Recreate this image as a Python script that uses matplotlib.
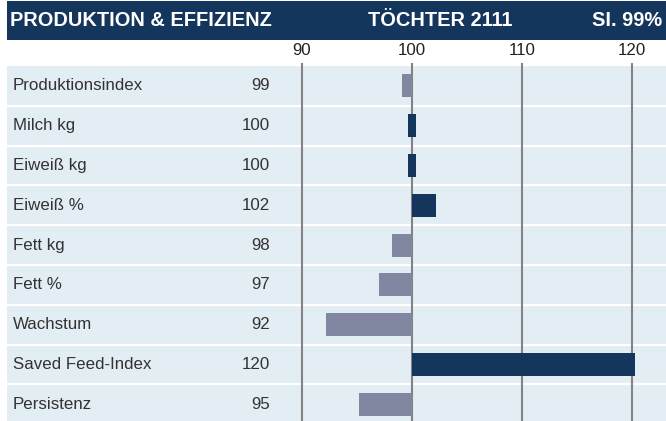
import matplotlib
matplotlib.use("Agg")
import matplotlib.pyplot as plt
import matplotlib.transforms as mtransforms
from matplotlib.patches import Rectangle

plt.rcParams['font.family'] = ['Liberation Sans', 'DejaVu Sans']

# data
categories = ["Produktionsindex", "Milch kg", "Eiweiß kg", "Eiweiß %", "Fett kg",
              "Fett %", "Wachstum", "Saved Feed-Index", "Persistenz"]
values = [99.1, 100.0, 100.0, 102.2, 98.2, 97.0, 92.2, 120.3, 95.2]
xticks = [90, 100, 110, 120]
header_left = "PRODUKTION & EFFIZIENZ"
header_mid = "TÖCHTER 2111"
header_right = "SI. 99%"

base = 100
navy = "#14365c"
grey_bar = "#8287a1"
band = "#e2edf4"
grid_col = "#838383"

W, H = 666, 421
fig = plt.figure(figsize=(W / 100, H / 100), dpi=100)
fig.patch.set_facecolor("white")

# header band
fig.patches.append(Rectangle((7 / W, 1 - 40 / H), 1 - 7 / W, 39 / H,
                             transform=fig.transFigure, facecolor=navy,
                             edgecolor="none", zorder=0))
hy = 1 - 21 / H
fig.text(10 / W, hy, header_left, color="white", fontsize=14.4,
         fontweight="bold", va="center", ha="left")
fig.text(368 / W, hy, header_mid, color="white", fontsize=14.4,
         fontweight="bold", va="center", ha="left")
fig.text(662 / W, hy, header_right, color="white", fontsize=14.4,
         fontweight="bold", va="center", ha="right")

# main axes: rows area
top_px = 66
ax = fig.add_axes([7 / W, 0, 1 - 7 / W, (H - top_px) / H])
n = len(categories)
row_px = 39.8
visible = (H - top_px) / row_px
ax.set_ylim(-0.5 + visible, -0.5)
ax.set_xlim(base - 405 / 11, base + 254 / 11)
ax.set_facecolor("white")
for s in ax.spines.values():
    s.set_visible(False)

# row bands
ax.barh(range(n), [ax.get_xlim()[1] - ax.get_xlim()[0]] * n, left=ax.get_xlim()[0],
        height=1.0, color=band, zorder=0)
for i in range(n - 1):
    ax.axhline(i + 0.5, color="white", lw=1.6, zorder=1)

# vertical grid lines with a small stub above the rows
ax.vlines(xticks, -0.58, n, color=grid_col, lw=1.5, zorder=2, clip_on=False)

# bars relative to 100
for i, v in enumerate(values):
    diff = v - base
    if abs(diff) < 0.05:
        left, width = base - 0.36, 0.72
    else:
        left, width = min(v, base), abs(diff)
    col = navy if v >= base else grey_bar
    ax.barh(i, width, left=left, height=0.58, color=col, zorder=3)

# labels and values
trans = mtransforms.blended_transform_factory(ax.transAxes, ax.transData)
for i, (c, v) in enumerate(zip(categories, values)):
    ax.text(6 / 659, i, c, transform=trans, ha="left", va="center",
            fontsize=12.2, color="#333333")
    ax.text(263 / 659, i, f"{round(v)}", transform=trans, ha="right",
            va="center", fontsize=12.2, color="#333333")

ax.xaxis.tick_top()
ax.set_xticks(xticks)
ax.set_xticklabels([str(t) for t in xticks], fontsize=12.2, color="#222222")
ax.tick_params(axis="x", length=0, pad=6)
ax.set_yticks([])

fig.savefig("out.png", dpi=100, facecolor="white")
